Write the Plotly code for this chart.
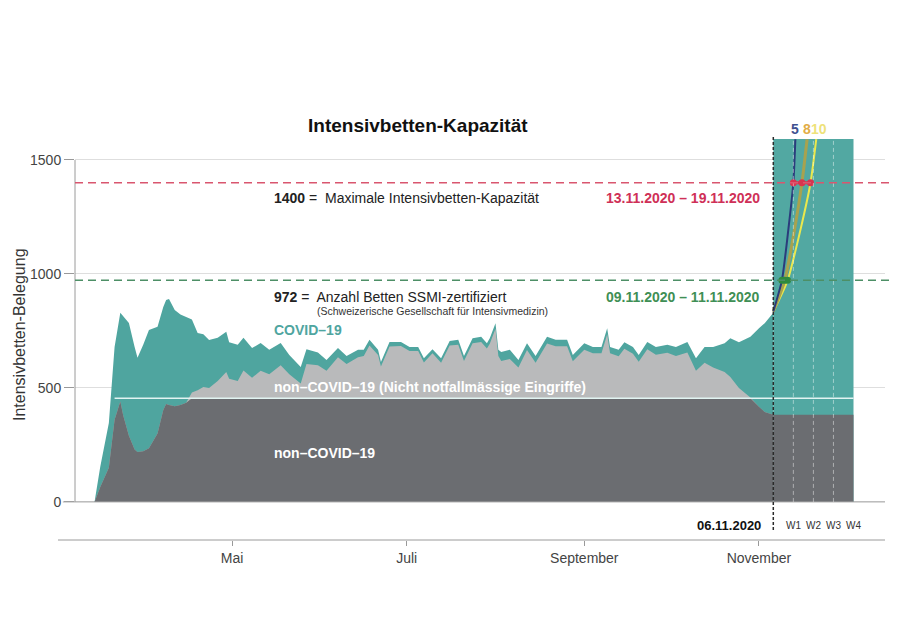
import numpy as np
import pandas as pd
import plotly.graph_objects as go

# ---------------- data ----------------
dates = ["2020-03-14","2020-03-16","2020-03-19","2020-03-21","2020-03-23","2020-03-24","2020-03-26","2020-03-28","2020-03-29","2020-03-31",
         "2020-04-02","2020-04-05","2020-04-07","2020-04-08","2020-04-09","2020-04-11","2020-04-13","2020-04-15","2020-04-17","2020-04-19",
         "2020-04-21","2020-04-23","2020-04-26","2020-04-29","2020-04-30","2020-05-03","2020-05-05","2020-05-08","2020-05-11","2020-05-14",
         "2020-05-18","2020-05-21","2020-05-25","2020-05-27","2020-05-31","2020-06-03","2020-06-07","2020-06-10","2020-06-14","2020-06-16",
         "2020-06-18","2020-06-21","2020-06-22","2020-06-25","2020-06-29","2020-07-02","2020-07-05","2020-07-07","2020-07-10","2020-07-13",
         "2020-07-16","2020-07-19","2020-07-21","2020-07-24","2020-07-27","2020-07-29","2020-07-30","2020-08-01","2020-08-02","2020-08-03",
         "2020-08-06","2020-08-09","2020-08-12","2020-08-15","2020-08-19","2020-08-22","2020-08-26","2020-08-28","2020-09-01","2020-09-04",
         "2020-09-07","2020-09-09","2020-09-10","2020-09-13","2020-09-15","2020-09-18","2020-09-20","2020-09-23","2020-09-26","2020-09-30",
         "2020-10-03","2020-10-07","2020-10-10","2020-10-13","2020-10-16","2020-10-20","2020-10-22","2020-10-25","2020-10-29","2020-11-01",
         "2020-11-03","2020-11-06"]

non_covid = [0,66,150,360,440,380,290,230,219,222,
             235,300,403,430,425,420,425,435,480,490,
             504,500,530,570,540,530,577,545,575,560,
             600,560,520,605,600,575,635,605,635,640,
             686,645,594,682,684,662,662,612,652,610,
             686,690,618,696,702,673,694,760,640,618,
             627,590,666,610,695,683,683,617,668,652,
             652,735,652,639,672,650,615,670,646,654,
             640,656,575,610,590,570,548,500,458,417,
             395,382]

covid = [0,88,196,320,390,435,495,450,413,467,
         519,468,452,456,465,422,397,376,320,251,
         231,210,190,176,160,159,143,130,122,107,
         97,85,72,65,55,48,40,35,32,27,
         25,22,20,20,18,18,18,18,18,20,
         20,21,22,22,23,23,24,24,27,40,
         40,33,30,30,30,28,28,28,28,28,
         28,27,28,28,28,30,30,32,34,36,
         40,46,55,70,90,126,170,200,267,345,
         389,448]

elective_cap = 455          # boundary between non-COVID and non-urgent non-COVID
cap_max = 1400              # Maximale Intensivbetten-Kapazität
cap_ssmi = 972              # Anzahl Betten SSMI-zertifiziert

proj_start = "2020-11-06"
proj_end = "2020-12-04"
proj_weeks = ["2020-11-13", "2020-11-20", "2020-11-27", "2020-12-04"]
week_labels = ["W1", "W2", "W3", "W4"]
proj_base = [382, 382]
proj_top = [1600, 1600]

proj_values = [835, 972, 1200, 1400, 1591]
proj_days = {"5": [0, 3, 5.3, 7, 7.7],
             "8": [0, 4, 7.5, 10, 11.8],
             "10": [0, 5, 9.6, 13, 15]}
proj_colors = {"5": "#2b3c7c", "8": "#a8a24e", "10": "#ebe84c"}
label_colors = {"5": "#3f5190", "8": "#e2ad45", "10": "#eee27a"}

month_ticks = ["2020-05-01", "2020-07-01", "2020-09-01", "2020-11-01"]
month_labels = ["Mai", "Juli", "September", "November"]
y_ticks = [0, 500, 1000, 1500]

# ---------------- figure ----------------
FONT = "Liberation Sans, Arial, sans-serif"
TEAL = "#4fa59f"
TEAL_P = "#52a8a2"
LGREY = "#b9babb"
DGREY = "#6b6d71"

nc = np.array(non_covid, dtype=float)
cv = np.array(covid, dtype=float)
total = nc + cv
dark = np.minimum(nc, elective_cap)

fig = go.Figure()
fill_kw = dict(mode="lines", line=dict(width=0), fill="tozeroy", hoverinfo="skip", showlegend=False)

fig.add_trace(go.Scatter(x=[proj_start, proj_end], y=proj_top, fillcolor=TEAL_P, **fill_kw))
fig.add_trace(go.Scatter(x=dates, y=total, fillcolor=TEAL, **fill_kw))
fig.add_trace(go.Scatter(x=dates, y=nc, fillcolor=LGREY, **fill_kw))
fig.add_trace(go.Scatter(x=dates, y=dark, fillcolor=DGREY, **fill_kw))
fig.add_trace(go.Scatter(x=[proj_start, proj_end], y=proj_base, fillcolor=DGREY, **fill_kw))

base = pd.Timestamp(proj_start)
for key in ["10", "8", "5"]:
    xs = [base + pd.Timedelta(days=d) for d in proj_days[key]]
    fig.add_trace(go.Scatter(x=xs, y=proj_values, mode="lines",
                             line=dict(color=proj_colors[key], width=3 if key == "8" else 2, shape="spline", smoothing=0.6),
                             hoverinfo="skip", showlegend=False))

# crossing markers at capacity levels
for level, idx, col in [(cap_ssmi, 1, "#2e8a3f"), (cap_max, 3, "#d8344f")]:
    xs = [base + pd.Timedelta(days=proj_days[k][idx]) for k in ["5", "8", "10"]]
    fig.add_trace(go.Scatter(x=xs, y=[level] * 3, mode="lines+markers",
                             line=dict(color=col, width=3), marker=dict(color=col, size=7),
                             hoverinfo="skip", showlegend=False))

shapes = []
# axis lines
shapes.append(dict(type="line", xref="paper", yref="paper", x0=-0.021, x1=1.0, y0=0, y1=0,
                   line=dict(color="#9a9a9a", width=1)))
shapes.append(dict(type="line", xref="paper", yref="y", x0=0, x1=0, y0=0, y1=1500,
                   line=dict(color="#9a9a9a", width=1)))
shapes.append(dict(type="line", xref="paper", yref="y", x0=-0.015, x1=1.0, y0=0, y1=0,
                   line=dict(color="#a5a5a5", width=1)))
# elective boundary line
shapes.append(dict(type="line", xref="x", yref="y", x0="2020-03-21", x1=proj_end, y0=elective_cap, y1=elective_cap,
                   line=dict(color="#e2f4f2", width=1.5)))
# week lines
for w in proj_weeks[:-1]:
    shapes.append(dict(type="line", xref="x", yref="paper", x0=w, x1=w, y0=0.095, y1=1,
                       line=dict(color="rgba(255,255,255,0.45)", width=1, dash="4px,3px")))
# capacity lines
shapes.append(dict(type="line", xref="paper", yref="y", x0=0, x1=1.006, y0=cap_max, y1=cap_max,
                   line=dict(color="#d9566f", width=1.5, dash="8px,5px")))
shapes.append(dict(type="line", xref="paper", yref="y", x0=0, x1=1.006, y0=cap_ssmi, y1=cap_ssmi,
                   line=dict(color="#4d8f66", width=1.5, dash="8px,5px")))
# today line
shapes.append(dict(type="line", xref="x", yref="paper", x0=proj_start, x1=proj_start, y0=0.025, y1=1.005,
                   line=dict(color="#2a2a2a", width=1.5, dash="3px,2px")))

def px(xp):
    return (xp - 75) / 810

def py(yp):
    return (540 - yp) / 401

ann = []
def A(text, x, y, xanchor="left", size=14, color="#222", **kw):
    ann.append(dict(text=text, x=px(x), y=py(y), xref="paper", yref="paper", xanchor=xanchor,
                    yanchor="middle", showarrow=False, font=dict(family=FONT, size=size, color=color), **kw))

A("<b>Intensivbetten-Kapazität</b>", 418, 126, xanchor="center", size=19, color="#111")
A("<b>1400</b> =  Maximale Intensivbetten-Kapazität", 272, 198)
A("<b>13.11.2020 – 19.11.2020</b>", 762, 198, xanchor="right", color="#cf3057")
A("<b>972</b> =  Anzahl Betten SSMI-zertifiziert", 272, 297)
A("(Schweizerische Gesellschaft für Intensivmedizin)", 315, 311, size=10.5, color="#333")
A("<b>09.11.2020 – 11.11.2020</b>", 762, 297, xanchor="right", color="#3f8f55")
A("<b>COVID–19</b>", 272, 330, color=TEAL)
A("<b>non–COVID–19 (Nicht notfallmässige Eingriffe)</b>", 272, 387, color="#ffffff")
A("<b>non–COVID–19</b>", 272, 453, color="#ffffff")
A("<b>06.11.2020</b>", 763, 525, xanchor="right", size=13, color="#111")
A("<b>5</b>", 795, 129, xanchor="center", color=label_colors["5"])
A("<b>8</b>", 807, 129, xanchor="center", color=label_colors["8"])
A("<b>10</b>", 819, 129, xanchor="center", color=label_colors["10"])
ann.append(dict(text="Intensivbetten-Belegung", x=px(19), y=py(335), xref="paper", yref="paper",
                xanchor="center", yanchor="middle", textangle=-90, showarrow=False,
                font=dict(family=FONT, size=16, color="#333")))
for w, lab in zip(proj_weeks, week_labels):
    ann.append(dict(text=lab, x=w, y=py(525), xref="x", yref="paper", xanchor="center", yanchor="middle",
                    showarrow=False, font=dict(family=FONT, size=10, color="#333")))

# page body has an 8px margin: size the figure so the plot area lands at x 75..885, y 139..540
fig.update_layout(
    width=892, height=619, autosize=False,
    margin=dict(l=67, r=15, t=131, b=87),
    paper_bgcolor="white", plot_bgcolor="white",
    shapes=shapes, annotations=ann,
    font=dict(family=FONT, size=14, color="#444"),
    xaxis=dict(type="date", range=["2020-03-07 04:19", "2020-12-15"],
               tickvals=month_ticks, ticktext=month_labels,
               ticks="outside", ticklen=5, tickcolor="#999", showgrid=False, showline=False, zeroline=False,
               tickfont=dict(family=FONT, size=14, color="#444")),
    yaxis=dict(range=[-167, 1592], tickvals=y_ticks, ticks="outside", ticklen=10, tickcolor="#999",
               showgrid=True, gridcolor="#dedede", gridwidth=1, zeroline=False, showline=False,
               tickfont=dict(family=FONT, size=14, color="#444")),
)

fig.write_html("out.html")
